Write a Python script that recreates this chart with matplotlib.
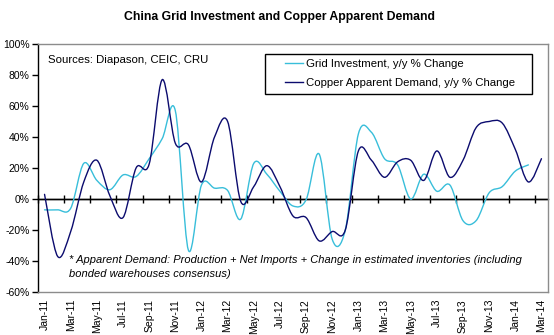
import numpy as np
import matplotlib
matplotlib.use('Agg')
import matplotlib.pyplot as plt
from matplotlib.path import Path
from matplotlib.patches import PathPatch, Rectangle
from matplotlib.lines import Line2D

months = ['Jan-11', 'Feb-11', 'Mar-11', 'Apr-11', 'May-11', 'Jun-11', 'Jul-11', 'Aug-11',
          'Sep-11', 'Oct-11', 'Nov-11', 'Dec-11', 'Jan-12', 'Feb-12', 'Mar-12', 'Apr-12',
          'May-12', 'Jun-12', 'Jul-12', 'Aug-12', 'Sep-12', 'Oct-12', 'Nov-12', 'Dec-12',
          'Jan-13', 'Feb-13', 'Mar-13', 'Apr-13', 'May-13', 'Jun-13', 'Jul-13', 'Aug-13',
          'Sep-13', 'Oct-13', 'Nov-13', 'Dec-13', 'Jan-14', 'Feb-14', 'Mar-14']

grid_investment = [-7, -7, -6, 23, 12, 6, 15.5, 14.5, 26, 39, 57, -33, 9, 7, 5.5, -13,
                   23, 16, 5, -4.5, -0.5, 29, -26, -20, 42, 43, 26, 22, 0, 16, 5, 9,
                   -14, -14, 4, 8, 18, 22, np.nan]

copper_demand = [3, -37, -21, 11, 25, 2, -12, 20, 22.5, 77, 36, 35, 11, 40, 50, -1.5,
                 8, 21.5, 8, -11, -12, -27, -21, -20, 31, 25, 14, 24, 25, 12, 31, 14,
                 25, 46, 50, 49, 32, 11, 26]

series_names = ['Grid Investment, y/y % Change', 'Copper Apparent Demand, y/y % Change']
series_colors = ['#38BEDA', '#0B0B6E']

y_ticks = [-60, -40, -20, 0, 20, 40, 60, 80, 100]

plt.rcParams['font.family'] = ['Liberation Sans', 'DejaVu Sans']

W, H = 554, 335
fig = plt.figure(figsize=(W / 100, H / 100), dpi=100)
ax = fig.add_axes([38 / W, 1 - 292 / H, 510 / W, 248 / H])
ax.set_xlim(-0.5, len(months) - 0.5)
ax.set_ylim(y_ticks[0], y_ticks[-1])


def smooth_path(values):
    x = np.arange(len(values), dtype=float)
    y = np.asarray(values, dtype=float)
    ok = ~np.isnan(y)
    x, y = x[ok], y[ok]
    p = np.column_stack([x, y])
    n = len(p)
    verts = [p[0]]
    codes = [Path.MOVETO]
    for i in range(n - 1):
        p0 = p[i - 1] if i > 0 else p[i]
        p1 = p[i]
        p2 = p[i + 1]
        p3 = p[i + 2] if i + 2 < n else p[i + 1]
        c1 = p1 + (p2 - p0) / 6.0
        c2 = p2 - (p3 - p1) / 6.0
        verts += [c1, c2, p2]
        codes += [Path.CURVE4] * 3
    return Path(np.array(verts), codes)


for vals, col in zip([grid_investment, copper_demand], series_colors):
    patch = PathPatch(smooth_path(vals), facecolor='none', edgecolor=col, lw=1.0,
                      zorder=3, capstyle='round', joinstyle='round')
    ax.add_patch(patch)

# spines
for s in ['top', 'right', 'bottom']:
    ax.spines[s].set_color('#8C8C8C')
    ax.spines[s].set_linewidth(1.0)
ax.spines['left'].set_color('black')
ax.spines['left'].set_linewidth(1.0)

ax.set_yticks(y_ticks)
ax.set_yticklabels([f'{v}%' for v in y_ticks])
ax.tick_params(axis='y', direction='out', length=4, width=1, color='black',
               labelsize=7.5, pad=2)

ax.set_xticks(np.arange(0, len(months), 2))
ax.set_xticklabels(months[::2], rotation=90)
ax.tick_params(axis='x', length=0, labelsize=7.5, pad=5)

# zero line with category tick marks
ax.axhline(0, color='black', lw=1.0, zorder=2)
zero_pos = (0 - y_ticks[0]) / (y_ticks[-1] - y_ticks[0])
sec = ax.secondary_xaxis(zero_pos)
sec.set_xticks(np.arange(-0.5, len(months), 2))
sec.tick_params(direction='inout', length=6, width=1, color='black',
                labelbottom=False, labeltop=False)
for s in sec.spines.values():
    s.set_color('black')
    s.set_linewidth(1.0)

# legend (frame drawn separately to get Excel-like inner padding)
fig.add_artist(Rectangle((265 / W, 1 - 94 / H), 267 / W, 40 / H,
                         transform=fig.transFigure, fill=True, facecolor='white',
                         edgecolor='black', lw=1.0, zorder=4))
handles = [Line2D([], [], color=c, lw=1.0) for c in series_colors]
leg = fig.legend(handles, series_names, loc='upper left', mode='expand',
                 bbox_to_anchor=(280 / W, 1 - 94 / H, 250 / W, 40 / H),
                 bbox_transform=fig.transFigure,
                 fontsize=8.2, frameon=False, borderaxespad=0,
                 handlelength=1.6, handletextpad=0.2, labelspacing=0.75,
                 borderpad=0.45)
leg.set_zorder(5)

fig.text(280 / W, 1 - 17 / H, 'China Grid Investment and Copper Apparent Demand',
         ha='center', va='center', fontsize=8.8, fontweight='bold')
fig.text(48 / W, 1 - 60 / H, 'Sources: Diapason, CEIC, CRU', ha='left', va='center',
         fontsize=8.2)
fig.text(69 / W, 1 - 260 / H,
         '* Apparent Demand: Production + Net Imports + Change in estimated inventories (including',
         ha='left', va='center', fontsize=8, style='italic')
fig.text(69 / W, 1 - 274 / H, 'bonded warehouses consensus)', ha='left', va='center',
         fontsize=8, style='italic')

fig.savefig('out.png', dpi=100)
